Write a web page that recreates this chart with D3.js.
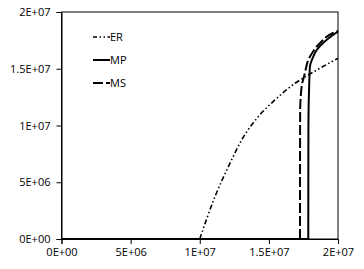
<!DOCTYPE html>
<html>
<head>
<meta charset="utf-8">
<script src="https://cdn.jsdelivr.net/npm/d3@7"></script>
<style>
	body { margin: 0; background: #fff; }
	svg text { font-family: 'Open Sans', sans-serif; font-size: 11px; fill: #000; }
</style>
</head>
<body>
<div id="chart"></div>
<script>
// values (x, y)
const erX = [1.0e7, 1.11e7, 1.207e7, 1.303e7, 1.423e7, 1.544e7, 1.689e7, 1.785e7, 2.0e7];
const erY = [0, 0.373e7, 0.637e7, 0.872e7, 1.078e7, 1.225e7, 1.372e7, 1.445e7, 1.592e7];

const mpX = [0, 1.785e7, 1.786e7, 1.792e7, 1.797e7, 1.821e7, 1.846e7, 1.892e7, 1.964e7, 2.0e7];
const mpY = [0, 0, 1.0e7, 1.374e7, 1.518e7, 1.606e7, 1.665e7, 1.727e7, 1.797e7, 1.828e7];

const msX = [0, 1.725e7, 1.726e7, 1.737e7, 1.761e7, 1.785e7, 1.819e7, 1.87e7, 1.964e7, 2.0e7];
const msY = [0, 0, 1.1e7, 1.342e7, 1.463e7, 1.577e7, 1.65e7, 1.727e7, 1.815e7, 1.833e7];

const erXFull = [0].concat(erX);
const erYFull = [0].concat(erY);

const xTicks = [0, 5e6, 1e7, 1.5e7, 2e7];
const xTickLabels = ['0E+00', '5E+06', '1E+07', '1.5E+07', '2E+07'];
const yTicks = [0, 5e6, 1e7, 1.5e7, 2e7];
const yTickLabels = ['0E+00', '5E+06', '1E+07', '1.5E+07', '2E+07'];

const seriesNames = ['ER', 'MP', 'MS'];

const width = 364,
	height = 269,
	margin = {top: 12, right: 26, bottom: 30, left: 61.5};

let svg = d3.select('#chart').append('svg')
			.attr('width', width)
			.attr('height', height);

let x = d3.scaleLinear()
			.domain([0, 2e7])
			.range([margin.left, width - margin.right]);

let y = d3.scaleLinear()
			.domain([0, 2e7])
			.range([height - margin.bottom, margin.top]);

//frame
svg.append('rect')
	.attr('x', x(0))
	.attr('y', y(2e7))
	.attr('width', x(2e7) - x(0))
	.attr('height', y(0) - y(2e7))
	.attr('fill', 'none')
	.attr('stroke', '#000')
	.attr('stroke-width', 1);

let xAxis = d3.axisBottom(x)
				.tickValues(xTicks)
				.tickSize(5)
				.tickPadding(4)
				.tickFormat((d, i) => xTickLabels[i]);

let yAxis = d3.axisLeft(y)
				.tickValues(yTicks)
				.tickSize(5)
				.tickPadding(6)
				.tickFormat((d, i) => yTickLabels[i]);

let gx = svg.append('g')
	.attr('transform', 'translate(0,' + y(0) + ')')
	.call(xAxis);

let gy = svg.append('g')
	.attr('transform', 'translate(' + x(0) + ',0)')
	.call(yAxis);

[gx, gy].forEach((g) => {
	g.select('.domain').attr('stroke', '#000');
	g.selectAll('.tick line').attr('stroke', '#000');
	g.selectAll('text').attr('font-family', null).attr('font-size', null);
});

let line = d3.line()
			.x((d) => x(d[0]))
			.y((d) => y(d[1]))
			.curve(d3.curveMonotoneX);

let lineMono = d3.line()
			.x((d) => x(d[0]))
			.y((d) => y(d[1]))
			.curve(d3.curveMonotoneY);

const series = [
	{name: 'ER', xs: erXFull, ys: erYFull, dash: '5,2.5,1.5,2.5,1.5,2.5', w: 1.6},
	{name: 'MS', xs: msX, ys: msY, dash: '10,3', w: 2},
	{name: 'MP', xs: mpX, ys: mpY, dash: null, w: 2}
];

series.forEach((s) => {
	let pts = s.xs.map((v, i) => [v, s.ys[i]]);
	let flat = pts.filter((p) => p[1] === 0);
	let rise = pts.slice(flat.length - 1);

	svg.append('path')
		.attr('d', d3.line().x((d) => x(d[0])).y((d) => y(d[1]))(flat))
		.attr('fill', 'none')
		.attr('stroke', '#000')
		.attr('stroke-width', 2);

	svg.append('path')
		.attr('d', (s.name === 'ER' ? line : lineMono)(rise))
		.attr('fill', 'none')
		.attr('stroke', '#000')
		.attr('stroke-width', s.w)
		.attr('stroke-dasharray', s.dash);
});

//legend
const legendStyles = {
	ER: {dash: '4,2.5,1.5,2.5,1.5,2.5', w: 1.6},
	MP: {dash: null, w: 2},
	MS: {dash: '10,3', w: 2}
};

let legend = svg.append('g').attr('transform', 'translate(93,37)');

seriesNames.forEach((n, i) => {
	let g = legend.append('g').attr('transform', 'translate(0,' + (i * 23) + ')');
	g.append('line')
		.attr('x1', 0).attr('x2', 17)
		.attr('y1', 0).attr('y2', 0)
		.attr('stroke', '#000')
		.attr('stroke-width', legendStyles[n].w)
		.attr('stroke-dasharray', legendStyles[n].dash);
	g.append('text')
		.attr('x', 17)
		.attr('y', 0)
		.attr('dy', '0.35em')
		.text(n);
});
</script>
</body>
</html>
